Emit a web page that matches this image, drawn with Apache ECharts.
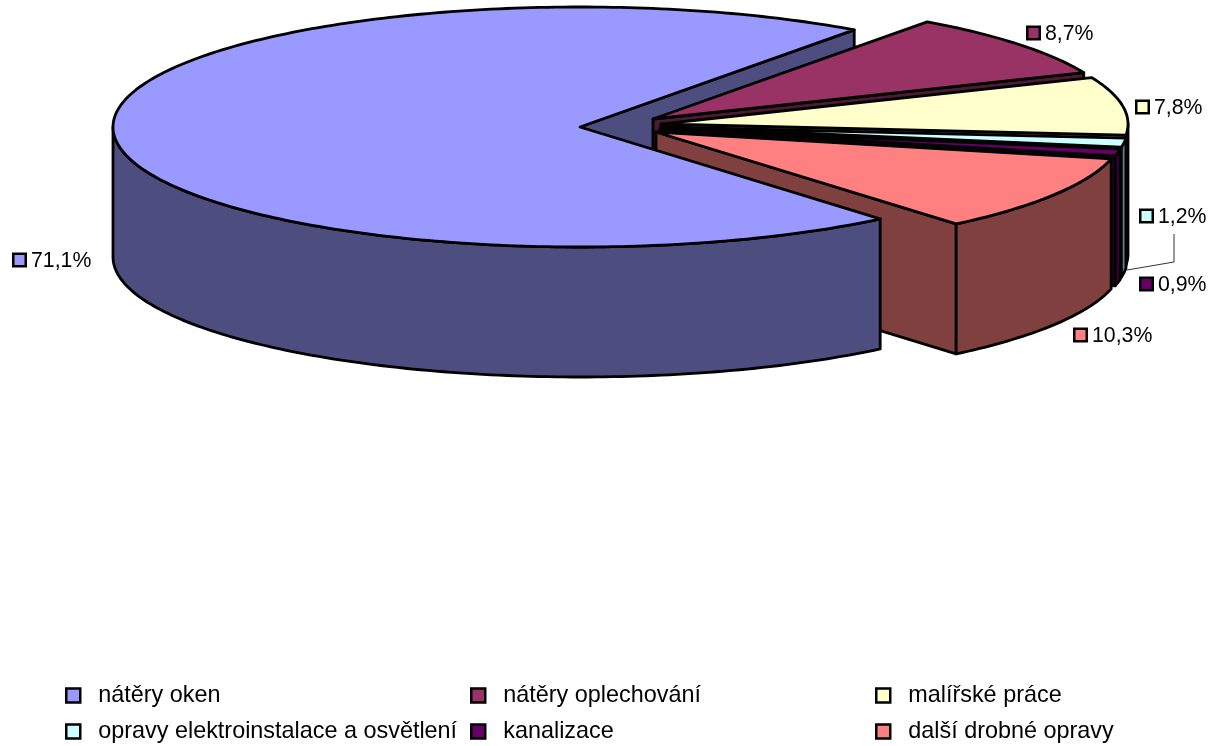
<!DOCTYPE html>
<html><head><meta charset="utf-8">
<style>html,body{margin:0;padding:0;background:#fff}#c{width:1211px;height:746px}</style>
<script src="https://cdn.jsdelivr.net/npm/echarts@6/dist/echarts.min.js"></script>
</head><body><div id="c"></div>
<script>
// --- data ---
const categories = ['nátěry oken','nátěry oplechování','malířské práce','opravy elektroinstalace a osvětlení','kanalizace','další drobné opravy'];
const shares = [71.1, 8.7, 7.8, 1.2, 0.9, 10.3];
const valueLabels = ['71,1%','8,7%','7,8%','1,2%','0,9%','10,3%'];
// --- styles / layout ---
const topColors  = ['#9999FF','#993366','#FFFFCC','#CCFFFF','#660066','#FF8080'];
const wallColors = ['#4D4D80','#4D1A33','#808066','#668080','#330033','#804040'];
const apexes = [[580,127],[653,119],[661,124],[661,127],[660,129],[656,132]];
const labelAt = [[31,261],[1045,34],[1154,108],[1158,217],[1158,285],[1092,336]];
const keyAt = [260,33,107,216,284,335];
const legendAt = [[65,684],[470,684],[875,684],[65,720],[470,720],[875,720]];
const RX = 467, RY = 120, DEPTH = 130, FIRST = -50;
const FONT = '"Liberation Sans", Arial, sans-serif';
const STROKE = 2.8;

const rad = d => d * Math.PI / 180;
let cum = FIRST;
// clockwise sweep; every slice after the first is normalised to the right-hand side
const angles = shares.map((s, i) => {
  const a0 = cum; cum -= s * 3.6;
  return i === 0 ? [a0, cum] : [a0 + 360, cum + 360];
});

function rimPt(c, a, drop) { return [c[0] + RX * Math.cos(rad(a)), c[1] - RY * Math.sin(rad(a)) + drop]; }
function arc(c, from, to, drop) {
  const pts = [], n = Math.max(2, Math.ceil(Math.abs(from - to)));
  for (let i = 0; i <= n; i++) pts.push(rimPt(c, from + (to - from) * i / n, drop));
  return pts;
}
function poly(points, fill, z2) {
  return { type:'polygon', shape:{points}, z2, style:{fill, stroke:'#000', lineWidth:STROKE, lineJoin:'round'} };
}
function renderSlice(idx) {
  return function () {
    const c = apexes[idx], [a0, a1] = angles[idx], els = [];
    const base = idx === 0 ? 100 : 10 + idx * 10;
    const wallZ = idx === 0 ? 1 : base;
    if (Math.cos(rad(a1)) > 0) {
      const p = rimPt(c, a1, 0);
      els.push(poly([c, p, [p[0], p[1] + DEPTH], [c[0], c[1] + DEPTH]], wallColors[idx], wallZ));
    }
    const from = Math.min(a0, 0), lo = Math.max(a1, -180);
    if (from > lo) {
      els.push(poly(arc(c, from, lo, 0).concat(arc(c, lo, from, DEPTH)), wallColors[idx], base + 1));
    }
    els.push(poly([c].concat(arc(c, a0, a1, 0)), topColors[idx], base + 2));
    const l = labelAt[idx];
    els.push({ type:'rect', z2:200, shape:{x:l[0]-17.75, y:keyAt[idx]-6.25, width:12.5, height:12.5},
      style:{fill:topColors[idx], stroke:'#000', lineWidth:2.5} });
    els.push({ type:'text', z2:200, x:l[0], y:l[1],
      style:{text:valueLabels[idx], fill:'#000', font:'21.3px '+FONT, textAlign:'left', textVerticalAlign:'middle'} });
    if (idx === 3) {
      els.push({ type:'polyline', z2:150, shape:{points:[[1127,270],[1174,262],[1174,234]]},
        style:{stroke:'#333', lineWidth:1, fill:'none'} });
    }
    return { type:'group', children:els };
  };
}
const option = {
  animation:false,
  backgroundColor:'#fff',
  legend: categories.map((name,i)=>({
    left:legendAt[i][0], top:legendAt[i][1], data:[name], selectedMode:false, padding:0,
    itemWidth:14, itemHeight:14, icon:'rect',
    itemStyle:{borderColor:'#000', borderWidth:2.5},
    textStyle:{fontFamily:'Liberation Sans', fontSize:23.4, color:'#000', padding:[0,0,0,13]}
  })),
  series: categories.map((name,i)=>({
    type:'custom', name, coordinateSystem:'none', silent:true,
    itemStyle:{color:topColors[i]},
    data:[shares[i]],
    renderItem:renderSlice(i)
  }))
};
const chart = echarts.init(document.getElementById('c'), null, {renderer:'canvas'});
chart.setOption(option);
</script></body></html>
